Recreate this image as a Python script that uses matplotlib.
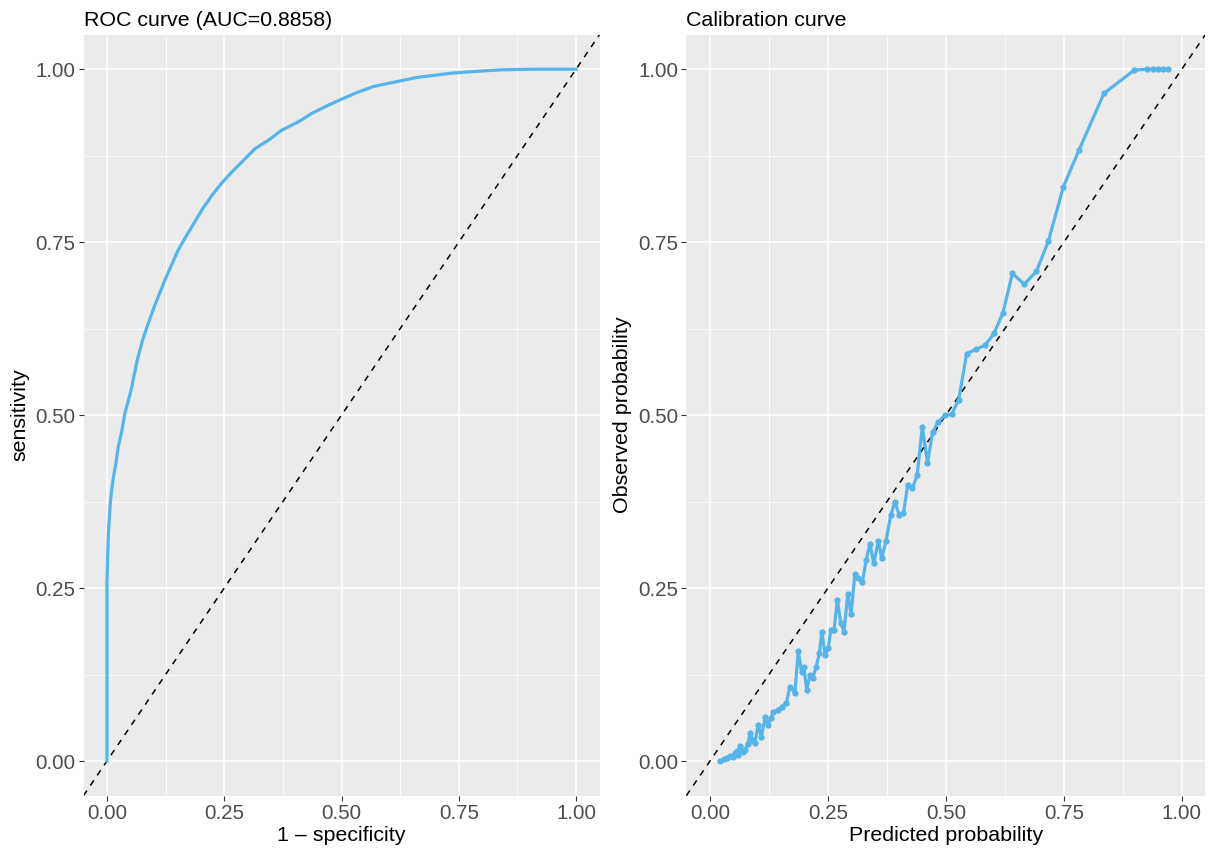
import matplotlib
matplotlib.use("Agg")
import matplotlib.pyplot as plt
from matplotlib.ticker import FixedLocator

plt.rcParams['font.family'] = ['Liberation Sans', 'DejaVu Sans']

# ROC curve data
roc_fpr = [0, 0, 0.002, 0.003, 0.007, 0.010, 0.014, 0.019, 0.024, 0.032, 0.038, 0.0518,
           0.064, 0.076, 0.0874, 0.1016, 0.1115, 0.1228, 0.1385, 0.1512, 0.1633, 0.1846,
           0.2038, 0.2237, 0.2436, 0.2662, 0.2876, 0.316, 0.3444, 0.3727, 0.4083, 0.4367,
           0.4651, 0.5042, 0.532, 0.568, 0.596, 0.625, 0.66, 0.696, 0.731, 0.767, 0.838,
           0.909, 1.0]
roc_tpr = [0, 0.257, 0.305, 0.329, 0.372, 0.392, 0.411, 0.430, 0.454, 0.478, 0.502, 0.537,
           0.578, 0.6086, 0.6313, 0.658, 0.6747, 0.694, 0.7183, 0.7377, 0.7522, 0.7764,
           0.7982, 0.8175, 0.8345, 0.8514, 0.8659, 0.8853, 0.8974, 0.9119, 0.924, 0.9361,
           0.9458, 0.9579, 0.966, 0.975, 0.979, 0.983, 0.988, 0.991, 0.994, 0.996, 0.999,
           1.0, 1.0]
auc_value = 0.8858

# Calibration curve data
cal_pred = [0.021, 0.030, 0.035, 0.042, 0.048, 0.053, 0.058, 0.060, 0.064, 0.069, 0.074,
            0.080, 0.085, 0.090, 0.095, 0.102, 0.109, 0.117, 0.123, 0.129, 0.134, 0.144,
            0.152, 0.162, 0.169, 0.180, 0.187, 0.194, 0.199, 0.205, 0.212, 0.218, 0.225,
            0.232, 0.237, 0.244, 0.251, 0.256, 0.263, 0.270, 0.277, 0.284, 0.292, 0.299,
            0.307, 0.314, 0.323, 0.331, 0.339, 0.347, 0.357, 0.364, 0.373, 0.383, 0.392,
            0.401, 0.410, 0.419, 0.429, 0.439, 0.450, 0.461, 0.472, 0.484, 0.498, 0.512,
            0.527, 0.544, 0.564, 0.583, 0.602, 0.621, 0.641, 0.666, 0.692, 0.717, 0.749,
            0.782, 0.835, 0.899, 0.927, 0.939, 0.950, 0.960, 0.971]
cal_obs = [0.000, 0.003, 0.005, 0.007, 0.006, 0.011, 0.014, 0.009, 0.021, 0.013, 0.016,
           0.024, 0.040, 0.030, 0.026, 0.052, 0.035, 0.064, 0.052, 0.062, 0.071, 0.074,
           0.078, 0.084, 0.107, 0.099, 0.159, 0.129, 0.136, 0.103, 0.124, 0.120, 0.136,
           0.156, 0.187, 0.153, 0.164, 0.190, 0.190, 0.233, 0.200, 0.187, 0.242, 0.212,
           0.270, 0.264, 0.259, 0.290, 0.314, 0.286, 0.318, 0.293, 0.318, 0.355, 0.375,
           0.355, 0.358, 0.399, 0.394, 0.413, 0.483, 0.431, 0.476, 0.490, 0.500, 0.501,
           0.522, 0.589, 0.595, 0.601, 0.618, 0.648, 0.705, 0.689, 0.708, 0.751, 0.830,
           0.883, 0.965, 0.9986, 1.0, 1.0, 1.0, 1.0, 1.0]

ticks = [0.00, 0.25, 0.50, 0.75, 1.00]
tick_labels = ["0.00", "0.25", "0.50", "0.75", "1.00"]
minor_ticks = [0.125, 0.375, 0.625, 0.875]

line_color = "#56B4E9"
W, H = 1212, 850
fig = plt.figure(figsize=(W / 100, H / 100), dpi=100)

ax1 = fig.add_axes([83.5 / W, (H - 795.6) / H, 516 / W, 761 / H])
ax2 = fig.add_axes([686.4 / W, (H - 795.6) / H, 519 / W, 761 / H])

TICK_FS = 14.8
TITLE_FS = 15.4


def style(ax):
    ax.set_facecolor("#EBEBEB")
    for s in ax.spines.values():
        s.set_visible(False)
    ax.set_xlim(-0.05, 1.05)
    ax.set_ylim(-0.05, 1.05)
    ax.xaxis.set_major_locator(FixedLocator(ticks))
    ax.yaxis.set_major_locator(FixedLocator(ticks))
    ax.set_xticklabels(tick_labels)
    ax.set_yticklabels(tick_labels)
    ax.xaxis.set_minor_locator(FixedLocator(minor_ticks))
    ax.yaxis.set_minor_locator(FixedLocator(minor_ticks))
    ax.grid(which="major", color="white", linewidth=1.1)
    ax.grid(which="minor", color="white", linewidth=0.55)
    ax.set_axisbelow(True)
    ax.tick_params(which="major", length=3.5, width=0.8, color="#333333",
                   labelsize=TICK_FS, labelcolor="#4D4D4D", pad=2.5)
    ax.tick_params(which="minor", length=0)
    ax.plot([-0.05, 1.05], [-0.05, 1.05], color="black", linestyle=(0, (4, 4)),
            linewidth=1.1, zorder=2)


style(ax1)
ax1.plot(roc_fpr, roc_tpr, color=line_color, linewidth=2.3, zorder=3,
         solid_joinstyle="round")
ax1.set_title(f"ROC curve (AUC={auc_value:.4f})", loc="left", fontsize=TITLE_FS, pad=6)
ax1.set_xlabel("1 \u2013 specificity", fontsize=TITLE_FS, labelpad=2)
ax1.set_ylabel("sensitivity", fontsize=TITLE_FS, labelpad=4)

style(ax2)
ax2.plot(cal_pred, cal_obs, color=line_color, linewidth=2.3, marker="o",
         markersize=3.5, zorder=3, solid_joinstyle="round")
ax2.set_title("Calibration curve", loc="left", fontsize=TITLE_FS, pad=6)
ax2.set_xlabel("Predicted probability", fontsize=TITLE_FS, labelpad=2)
ax2.set_ylabel("Observed probability", fontsize=TITLE_FS, labelpad=4)

fig.savefig("out.png", dpi=100)
